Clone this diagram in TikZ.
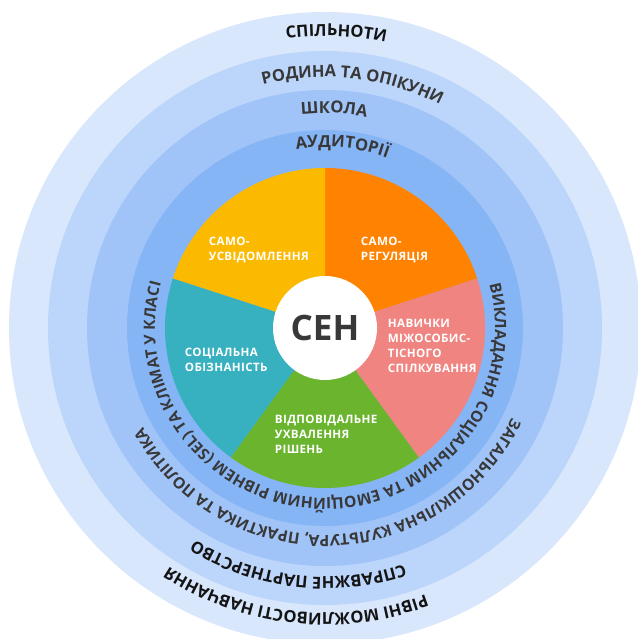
\documentclass[tikz,border=0pt]{standalone}
\usepackage{fontspec}
\setmainfont{Open Sans}
\usepackage{tikz}
\usetikzlibrary{decorations.text}

\definecolor{ringone}{HTML}{D8E7FC}
\definecolor{ringtwo}{HTML}{BCD5FA}
\definecolor{ringthree}{HTML}{A1C4F8}
\definecolor{ringfour}{HTML}{86B5F6}
\definecolor{segorange}{HTML}{FF8300}
\definecolor{segyellow}{HTML}{FBB900}
\definecolor{segpink}{HTML}{F08481}
\definecolor{seggreen}{HTML}{6AB42E}
\definecolor{segteal}{HTML}{37B0C0}
\definecolor{inktext}{HTML}{383838}
\definecolor{inkdark}{HTML}{141414}

\newcommand{\ringfont}{\bfseries\fontsize{16.5}{16.5}\selectfont}
\newcommand{\longringfont}{\bfseries\fontsize{15.6}{15.6}\selectfont}

\begin{document}
\begin{tikzpicture}[x=1pt,y=1pt,
  ringtext/.style 2 args={decorate,decoration={text along path,text align=center,
    text={|#1|#2}}},
  segtext/.style={anchor=west,inner sep=0.75pt,align=left,text=white,
    font=\bfseries\fontsize{11.6}{15}\selectfont\addfontfeatures{LetterSpace=3}}]
%set diagram to the 638 x 639 frame, centre of the rings at (0,0)
\useasboundingbox (-325,-311) rectangle (313,328);
\clip (-325,-311) rectangle (313,328);

%Shape: Circle [rings]
\fill [ringone] (0,0) circle (316);
\fill [ringtwo] (0,0) circle (277);
\fill [ringthree] (0,0) circle (238);
\fill [ringfour] (0,0) circle (198);

%Shape: Pie [segments]
\fill [segorange] (0,0) -- (18:160) arc (18:90:160) -- cycle;
\fill [segyellow] (0,0) -- (90:160) arc (90:162:160) -- cycle;
\fill [segteal] (0,0) -- (162:160) arc (162:234:160) -- cycle;
\fill [seggreen] (0,0) -- (234:160) arc (234:306:160) -- cycle;
\fill [segpink] (0,0) -- (306:160) arc (306:378:160) -- cycle;

%Shape: Circle [centre]
\fill [white] (0,0) circle (52);

%Curve Lines [ring labels, top]
\path [ringtext={\ringfont\color{inkdark}}{СПІЛЬНОТИ}] (187.8:292) arc (187.8:-12.2:292);
\path [ringtext={\ringfont\color{inktext}}{РОДИНА ТА ОПІКУНИ}] (183.5:251) arc (183.5:-16.5:251);
\path [ringtext={\ringfont\color{inktext}}{ШКОЛА}] (187.6:215) arc (187.6:-12.4:215);
\path [ringtext={\ringfont\color{inktext}}{АУДИТОРІЇ}] (184.5:181) arc (184.5:-15.5:181);

%Curve Lines [ring labels, bottom]
\path [ringtext={\longringfont\color{inktext}}{ВИКЛАДАННЯ СОЦІАЛЬНИМ ТА ЕМОЦІЙНИМ РІВНЕМ (SEL) ТА КЛІМАТ У КЛАСІ}]
  (84.7:170) arc (84.7:-265.3:170);
\path [ringtext={\longringfont\color{inktext}}{ЗАГАЛЬНОШКІЛЬНА КУЛЬТУРА, ПРАКТИКА ТА ПОЛІТИКА}]
  (61.5:207) arc (61.5:-238.5:207);
\path [ringtext={\ringfont\color{inkdark}}{СПРАВЖНЕ ПАРТНЕРСТВО}] (-6.5:249) arc (-6.5:-186.5:249);
\path [ringtext={\ringfont\color{inkdark}}{РІВНІ МОЖЛИВОСТІ НАВЧАННЯ}] (-6.3:285) arc (-6.3:-186.3:285);

% Text Node
\node (sen) [inner sep=0.75pt,text=inktext,font=\bfseries\fontsize{35}{35}\selectfont] at (0,0) {СЕН};
% Text Node
\node (samousv) [segtext] at (-117,78) {САМО-\\УСВІДОМЛЕННЯ};
% Text Node
\node (samoreg) [segtext] at (35,78) {САМО-\\РЕГУЛЯЦІЯ};
% Text Node
\node (navychky) [segtext] at (62,-17.5) {НАВИЧКИ\\МІЖОСОБИС-\\ТІСНОГО\\СПІЛКУВАННЯ};
% Text Node
\node (sotsialna) [segtext] at (-141,-31.5) {СОЦІАЛЬНА\\ОБІЗНАНІСТЬ};
% Text Node
\node (rishennia) [segtext] at (-51,-106) {ВІДПОВІДАЛЬНЕ\\УХВАЛЕННЯ\\РІШЕНЬ};
\end{tikzpicture}
\end{document}
